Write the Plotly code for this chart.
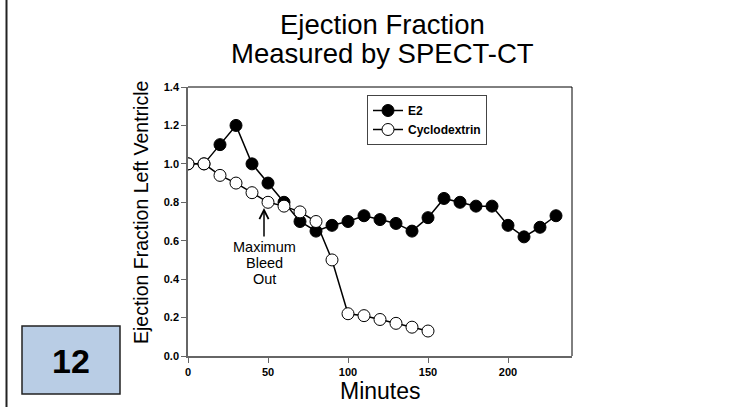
import plotly.graph_objects as go

# data
minutes_e2 = [0, 10, 20, 30, 40, 50, 60, 70, 80, 90, 100, 110, 120, 130, 140, 150, 160, 170, 180, 190, 200, 210, 220, 230]
ef_e2 = [1.0, 1.0, 1.10, 1.20, 1.0, 0.90, 0.80, 0.70, 0.65, 0.68, 0.70, 0.73, 0.71, 0.69, 0.65, 0.72, 0.82, 0.80, 0.78, 0.78, 0.68, 0.62, 0.67, 0.73]

minutes_cyclo = [0, 10, 20, 30, 40, 50, 60, 70, 80, 90, 100, 110, 120, 130, 140, 150]
ef_cyclo = [1.0, 1.0, 0.94, 0.90, 0.85, 0.80, 0.78, 0.75, 0.70, 0.50, 0.22, 0.21, 0.19, 0.17, 0.15, 0.13]

x_ticks = [0, 50, 100, 150, 200]
y_ticks = [0.0, 0.2, 0.4, 0.6, 0.8, 1.0, 1.2, 1.4]

W, H = 732, 407
L, R, T, B = 188, 572, 87, 356  # plot area in pixels

def px(x):
    return (x - L) / (R - L)

def py(y):
    return (B - y) / (B - T)

def ydata(y):
    return (B - y) / (B - T) * 1.4

FONT = "Arial, Liberation Sans, sans-serif"

fig = go.Figure()

fig.add_trace(go.Scatter(x=minutes_e2, y=ef_e2, name='E2', mode='lines+markers',
                         line=dict(color='black', width=1.5),
                         marker=dict(symbol='circle', size=12, color='black', line=dict(color='black', width=1))))
fig.add_trace(go.Scatter(x=minutes_cyclo, y=ef_cyclo, name='Cyclodextrin', mode='lines+markers',
                         line=dict(color='black', width=1.5),
                         marker=dict(symbol='circle', size=12, color='white', line=dict(color='black', width=1))))

fig.update_layout(
    width=W, height=H,
    margin=dict(l=L, r=W - R, t=T, b=H - B),
    paper_bgcolor='white', plot_bgcolor='white',
    font=dict(family=FONT, color='black'),
    showlegend=True,
    legend=dict(x=px(367), y=py(95), xanchor='left', yanchor='top',
                bordercolor='#444', borderwidth=1, bgcolor='white',
                font=dict(size=12, family=FONT, weight='bold'),
                tracegroupgap=0, itemwidth=30),
)

fig.update_xaxes(range=[0, 240], tickvals=x_ticks, showgrid=False, zeroline=False,
                 showline=True, linecolor='#666', linewidth=1.5,
                 ticks='outside', ticklen=5, tickcolor='#666',
                 tickfont=dict(size=11, family=FONT, weight='bold'))
fig.update_yaxes(range=[0, 1.4], tickvals=y_ticks, tickformat='.1f', showgrid=False, zeroline=False,
                 showline=True, linecolor='#666', linewidth=1.5,
                 ticks='outside', ticklen=5, tickcolor='#666',
                 tickfont=dict(size=11, family=FONT, weight='bold'))

# top and right frame
fig.add_shape(type='line', xref='paper', yref='paper', x0=0, x1=1, y0=1, y1=1, line=dict(color='black', width=1))
fig.add_shape(type='line', xref='paper', yref='paper', x0=1, x1=1, y0=0, y1=1, line=dict(color='black', width=1))

# slide left border
fig.add_shape(type='line', xref='paper', yref='paper', x0=px(6.5), x1=px(6.5), y0=py(-5), y1=py(H + 5),
              line=dict(color='#222', width=2))

# slide number box
fig.add_shape(type='rect', xref='paper', yref='paper', x0=px(22), x1=px(120), y0=py(394), y1=py(326),
              fillcolor='#B9CDE5', line=dict(color='#222', width=1.5))

def label(text, x, y, size, **kw):
    fig.add_annotation(text=text, xref='paper', yref='paper', x=px(x), y=py(y),
                       xanchor='center', yanchor='middle', showarrow=False,
                       font=dict(size=size, family=FONT, color='black'), **kw)

label('<b>12</b>', 71, 361, 34)

# title
label('Ejection Fraction', 382, 25, 27.5)
label('Measured by SPECT-CT', 382, 54, 27.5)

# axis titles
label('Minutes', 380, 391, 23)
label('Ejection Fraction Left Ventricle', 141, 213, 19.5, textangle=-90)

# bleed out marker
fig.add_annotation(x=47.5, y=ydata(208), ax=47.5, ay=ydata(238), xref='x', yref='y', axref='x', ayref='y',
                   text='', showarrow=True, arrowhead=5, arrowsize=1.2, arrowwidth=1.5, arrowcolor='black')
for txt, ypix in [('Maximum', 247), ('Bleed', 263), ('Out', 279)]:
    fig.add_annotation(text=txt, x=47.5, y=ydata(ypix), xref='x', yref='y',
                       xanchor='center', yanchor='middle', showarrow=False,
                       font=dict(size=14.5, family=FONT, color='black'))

fig.write_html("out.html", config={'displayModeBar': False},
               post_script="document.body.style.margin='0';")
